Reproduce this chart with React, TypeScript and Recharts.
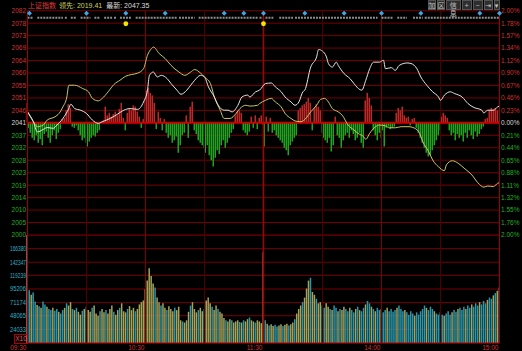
import React from 'react'
import {
  ComposedChart,
  Line,
  Bar,
  Cell,
  XAxis,
  YAxis,
  CartesianGrid,
  ReferenceLine,
  ReferenceDot,
} from 'recharts'

// previous close and the +-2% band split into 9 steps each side
const BASE = 2041.2
const STEP = (BASE * 0.02) / 9

const PRICE_LABELS = ['2082', '2078', '2073', '2069', '2064', '2060', '2055', '2051', '2046', '2041', '2037', '2032', '2028', '2023', '2019', '2014', '2010', '2005', '2000']
const PCT_LABELS = ['2.00%', '1.78%', '1.57%', '1.34%', '1.12%', '0.90%', '0.67%', '0.46%', '0.23%', '0.00%', '0.21%', '0.44%', '0.65%', '0.88%', '1.11%', '1.32%', '1.55%', '1.76%', '2.00%']

const TIME_TICKS = [0, 60, 120, 180, 240]
const TIME_LABELS = ['09:30', '10:30', '11:30', '14:00', '15:00']
const HALF_HOURS = [30, 90, 150, 210]
const HOURS = [60, 180]

const VOL_TICKS = [24033, 48065, 71174, 95206, 119239, 142347, 166380]
const VOL_MAX = 190413

// 上证指数 (white) sampled minutes / values
const PRICE_MIN = [0, 3, 5, 8, 10, 13, 15, 18, 21, 22, 24, 27, 30, 33, 36, 38, 42, 45, 49, 52, 56, 59, 61, 62, 64, 66, 68, 71, 73, 76, 78, 81, 83, 85, 88, 90, 92, 95, 97, 100, 102, 104, 107, 109, 112, 113, 116, 118, 121, 124, 126, 129, 131, 134, 136, 138, 140, 141, 144, 147, 148, 150, 152, 153, 155, 157, 158, 161, 164, 166, 169, 170, 172, 174, 176, 179, 181, 182, 185, 187, 189, 193, 195, 198, 200, 203, 206, 209, 210, 212, 215, 217, 221, 224, 227, 231, 232, 234, 237, 239, 240]
const PRICE_VAL = [2045.2, 2041.6, 2037.9, 2038.8, 2039.5, 2039.2, 2040.4, 2042.8, 2046.4, 2048.0, 2046.4, 2045.8, 2044.6, 2042.2, 2041.0, 2041.6, 2042.8, 2044.0, 2045.8, 2046.4, 2046.1, 2048.8, 2053.1, 2058.5, 2059.7, 2057.9, 2058.5, 2057.3, 2055.5, 2053.1, 2051.6, 2053.1, 2054.9, 2056.7, 2058.5, 2057.9, 2054.3, 2050.6, 2047.6, 2045.8, 2045.8, 2045.2, 2047.6, 2050.6, 2051.3, 2050.6, 2052.5, 2053.1, 2055.5, 2055.7, 2054.3, 2052.5, 2050.6, 2048.8, 2047.6, 2048.8, 2052.5, 2053.1, 2061.5, 2065.2, 2067.9, 2067.3, 2065.2, 2062.8, 2061.5, 2063.3, 2062.1, 2059.1, 2057.3, 2055.5, 2053.3, 2053.1, 2056.7, 2060.9, 2063.3, 2063.3, 2064.0, 2060.9, 2061.3, 2060.3, 2062.1, 2063.0, 2062.8, 2060.9, 2057.9, 2054.9, 2052.5, 2050.6, 2049.4, 2051.3, 2052.5, 2051.9, 2050.6, 2048.2, 2046.8, 2045.8, 2044.8, 2045.8, 2045.8, 2047.0, 2047.35]

// 领先 (yellow)
const LEAD_MIN = [0, 3, 5, 8, 10, 14, 16, 18, 20, 21, 24, 28, 31, 33, 36, 38, 41, 44, 47, 50, 53, 56, 59, 61, 63, 64, 67, 70, 73, 77, 80, 83, 85, 88, 90, 93, 95, 98, 100, 103, 106, 108, 111, 113, 117, 118, 121, 124, 126, 129, 131, 134, 136, 139, 142, 144, 147, 149, 151, 153, 155, 158, 160, 163, 166, 168, 171, 172, 174, 177, 179, 182, 184, 187, 190, 194, 196, 199, 201, 204, 206, 209, 212, 213, 216, 219, 222, 226, 229, 232, 234, 237, 239, 240]
const LEAD_VAL = [2045.2, 2041.6, 2039.8, 2040.4, 2042.2, 2043.4, 2044.6, 2047.0, 2050.6, 2054.9, 2054.9, 2053.7, 2052.5, 2050.1, 2049.2, 2050.1, 2052.5, 2055.2, 2056.7, 2058.2, 2058.8, 2059.3, 2060.9, 2065.8, 2068.2, 2068.8, 2066.4, 2064.6, 2062.1, 2059.7, 2058.5, 2059.7, 2060.6, 2059.3, 2057.9, 2055.5, 2050.6, 2045.8, 2042.8, 2042.8, 2044.6, 2046.4, 2047.6, 2047.3, 2047.6, 2048.2, 2049.4, 2050.1, 2048.8, 2047.0, 2044.6, 2042.8, 2041.9, 2041.6, 2043.2, 2045.2, 2047.6, 2049.7, 2050.1, 2048.8, 2046.4, 2045.2, 2044.0, 2040.4, 2038.6, 2037.4, 2036.1, 2035.2, 2037.4, 2039.8, 2040.4, 2040.1, 2039.4, 2039.4, 2039.8, 2039.8, 2039.5, 2037.9, 2034.3, 2030.7, 2027.7, 2025.2, 2023.8, 2025.9, 2027.4, 2026.5, 2024.7, 2022.2, 2019.4, 2017.8, 2018.2, 2018.0, 2019.2, 2019.41]

// red / green strength bars, one per minute
const STRENGTH = [
  16, -4, -8, -12, -14, -10, -16, -13, -18, -9,
  -7, -12, -16, -10, -6, -13, -8, -5, 3, 4,
  10, 15, 12, -3, -4, -2, -6, -10, -14, -12,
  -16, -19, -15, -12, -10, -11, -8, -6, 1, 2,
  13, 6, 8, 5, 7, 9, 6, 11, 16, 4,
  -6, 8, 12, 10, 14, 13, 9, 5, -4, 3,
  18, 26, 28, 24, 22, 16, -5, 9, 4, -6,
  3, -8, -12, -10, -16, -14, -11, -24, -18, -10,
  -8, 6, -12, 13, 17, -6, -9, -14, -16, -18,
  -20, -24, -18, -26, -30, -35, -28, -22, -25, -18,
  -14, -20, -16, -12, -8, -5, 6, 9, 10, 8,
  -6, -8, -10, -7, 5, -4, 6, -5, 4, 6,
  -2, -19, 5, -7, 4, -8, -6, -10, -12, -14,
  -16, -20, -22, -26, -18, -15, -12, -10, 10, 12,
  14, 15, 17, 20, 16, -6, 12, 15, 13, 10,
  -8, -12, -14, -16, -12, -23, -18, 5, -10, -12,
  -20, -14, -10, -8, -12, -6, -9, -14, -12, -8,
  -16, -20, 18, 24, 20, 14, -6, -10, -14, -8,
  -12, -6, -19, -4, -3, -5, -4, -3, 8, 12,
  10, 13, 6, 4, 5, -2, 3, 4, -4, -8,
  -12, -16, -20, -24, -27, -26, -22, -18, -14, -10,
  -6, 5, 8, 6, 4, -6, -10, -8, -14, -9,
  -12, -10, -15, -8, -12, -6, -10, -13, -7, -11,
  -9, -5, -3, 3, 4, 10, 12, 11, 12, 10, 2,
]

// volume per minute, in thousands (axis is X10)
const VOLUME = [
  190, 93, 85, 89, 73, 67, 65, 62, 73, 68,
  64, 60, 58, 62, 57, 60, 55, 52, 58, 62,
  70, 66, 72, 60, 58, 62, 55, 50, 57, 60,
  64, 58, 55, 62, 66, 52, 48, 56, 60, 54,
  58, 52, 60, 66, 55, 50, 58, 62, 70, 56,
  54, 60, 65, 58, 62, 56, 60, 68, 72, 75,
  95, 110, 132, 118, 105, 98, 80, 72, 66, 70,
  62, 58, 65, 60, 56, 62, 58, 64, 40, 38,
  36, 40, 55, 66, 72, 60, 54, 58, 62, 56,
  60, 75, 80, 70, 64, 58, 66, 60, 55, 52,
  44, 40, 38, 42, 40, 36, 38, 40, 37, 36,
  40, 38, 42, 45, 40, 38, 36, 40, 38, 35,
  160, 40, 34, 31, 33, 30, 32, 29, 31, 33,
  30, 32, 34, 31, 33, 36, 42, 52, 60, 66,
  72, 80, 96, 110, 115, 90, 85, 78, 70, 72,
  66, 62, 70, 64, 60, 58, 66, 62, 56, 60,
  58, 64, 60, 56, 62, 58, 54, 60, 64, 58,
  56, 62, 68, 74, 70, 64, 60, 56, 62, 58,
  60, 54, 58, 62, 56, 60, 55, 58, 62, 66,
  60, 56, 58, 54, 50, 56, 52, 48, 54, 50,
  56, 60, 66, 62, 58, 64, 60, 56, 52, 50,
  54, 50, 48, 52, 56, 50, 54, 58, 55, 60,
  62, 58, 64, 60, 66, 62, 68, 64, 70, 66,
  72, 68, 74, 70, 76, 80, 78, 84, 88, 92, 98,
]

// w = opening bar, y = yellow, c = cyan
const VOL_SIDE =
  'w' +
  'cyccycyccy' + 'ccyccyccyc' + 'yycycyycyc' + 'yycyyycyyc' +
  'yyycyycyyy' + 'cyyycyyyyy' + 'yyyycyycyy' + 'cyyycyyycy' +
  'yycyyycyyc' + 'yyycyycyyy' + 'cyycyyycyc' + 'yycyycyyyy' +
  'cycyyccyyc' + 'yycyycyyyc' + 'yyycyycyyc' + 'cyycyccycy' +
  'yccyccycyc' + 'cyccycyccy' + 'ccyccccycc' + 'cyccccyccc' +
  'ccycccyccc' + 'cycccyccyc' + 'ccyccycccy' + 'cccyccycyc'

// info-mine markers along the top band
const INFO_DIAMONDS = [1, 30, 50, 70, 100, 110, 120, 141, 161, 180, 200, 230, 240]
const INFO_YELLOW = [50, 120]
const INFO_SEGMENTS: [number, number][] = [
  [0, 3], [5, 18], [19, 20], [22, 25], [27, 32], [34, 37], [39, 43], [44, 45], [47, 53],
  [55, 76], [77, 85], [87, 117], [118, 119], [121, 125], [128, 135], [136, 178],
  [180, 186], [188, 193], [196, 201], [202, 240],
]

const PRICE_TICKS = PRICE_LABELS.map((_, i) => BASE + (9 - i) * STEP)
const rows = STRENGTH.map((s, m) => ({ m, s, vol: VOLUME[m] * 1000 }))
const priceRows = PRICE_MIN.map((m, i) => ({ m, v: PRICE_VAL[i] }))
const leadRows = LEAD_MIN.map((m, i) => ({ m, v: LEAD_VAL[i] }))

const FONT = '"Liberation Sans", Arial, sans-serif'
const RED = '#d23232'
const GREEN = '#22b022'
const GRID = '#760000'

function labelColor(i: number) {
  if (i < 9) return RED
  if (i === 9) return '#d8d8d8'
  return GREEN
}

function tickIndex(v: number) {
  return 9 - Math.round((v - BASE) / STEP)
}

const LeftTick = (props: any) => {
  const i = tickIndex(props.payload.value)
  return (
    <text x={props.x} y={props.y} dy={2.4} textAnchor="end" fontSize={6.5} fontFamily={FONT} fill={labelColor(i)}>
      {PRICE_LABELS[i]}
    </text>
  )
}

const RightTick = (props: any) => {
  const i = tickIndex(props.payload.value)
  return (
    <text x={props.x} y={props.y} dy={2.4} textAnchor="start" fontSize={6.5} fontFamily={FONT} fill={labelColor(i)}>
      {PCT_LABELS[i]}
    </text>
  )
}

const VolTick = (props: any) => (
  <text x={props.x} y={props.y} dy={2.4} textAnchor="end" fontSize={6.5} fontFamily={FONT} fill="#30b0c4" textLength={16} lengthAdjust="spacingAndGlyphs">
    {props.payload.value}
  </text>
)

const TimeTick = (props: any) => {
  const i = TIME_TICKS.indexOf(props.payload.value)
  return (
    <text x={props.x - 1} y={props.y} dy={6.8} textAnchor="end" fontSize={6.5} fontFamily={FONT} fill={RED}>
      {TIME_LABELS[i]}
    </text>
  )
}

// strength bars snapped to whole pixels, coloured by sign
const StrengthBar = (p: any) => {
  const s = p.payload ? p.payload.s : p.value
  const top = Math.min(p.y, p.y + p.height)
  const h = Math.abs(p.height)
  return <rect x={Math.floor(p.x + p.width / 2) - 0.5} y={top} width={1.5} height={h} fill={s >= 0 ? '#c02828' : '#1ea41e'} />
}

const Diamond = (p: any) => (
  <path d={`M${p.cx},${p.cy - 2.5}L${p.cx + 2.5},${p.cy}L${p.cx},${p.cy + 2.5}L${p.cx - 2.5},${p.cy}Z`} fill="#3aa8e6" />
)
const YellowDot = (p: any) => <circle cx={p.cx} cy={p.cy} r={2.4} fill="#f2e600" />

const BUTTONS = [
  { t: '加', x: 427.5, w: 8.5 },
  { t: '区', x: 436.5, w: 8.5 },
  { t: '信息', x: 446, w: 14.5 },
  { t: '+', x: 461.5, w: 10.5 },
  { t: '−', x: 472.5, w: 10.5 },
  { t: '⇥', x: 483.5, w: 9.5 },
  { t: '▾', x: 493.5, w: 6 },
]

function verticalLines(axisId: string) {
  return [
    ...HALF_HOURS.map(m => <ReferenceLine key={'h' + m} x={m} yAxisId={axisId} stroke="#4e0000" />),
    ...HOURS.map(m => <ReferenceLine key={'o' + m} x={m} yAxisId={axisId} stroke="#7e0000" />),
    <ReferenceLine key="mid" x={120} yAxisId={axisId} stroke="#a80000" strokeWidth={1.5} />,
  ]
}

export default function App() {
  const diamondY = BASE * 1.01956
  const rowY = BASE * 1.01874
  const yellowY = BASE * 1.01767

  return (
    <div style={{ position: 'absolute', left: 0, top: 0, width: 522, height: 351, background: '#000', overflow: 'hidden', fontFamily: FONT }}>
      <div style={{ position: 'absolute', left: 0, top: 0 }}>
        <ComposedChart width={522} height={240} data={rows} margin={{ top: 10.7, right: 0, bottom: 5, left: 0 }}>
          <CartesianGrid yAxisId="p" vertical={false} stroke={GRID} />
          {verticalLines('p')}
          <XAxis type="number" dataKey="m" domain={[0, 240]} hide />
          <YAxis yAxisId="p" domain={[BASE * 0.98, BASE * 1.02]} ticks={PRICE_TICKS} interval={0} width={27.5} tickSize={0} tickMargin={1.5} tickLine={false} tick={<LeftTick />} axisLine={{ stroke: '#a00000' }} allowDataOverflow />
          <YAxis yAxisId="r" orientation="right" domain={[BASE * 0.98, BASE * 1.02]} ticks={PRICE_TICKS} interval={0} width={22.5} tickSize={0} tickMargin={1.5} tickLine={false} tick={<RightTick />} axisLine={{ stroke: '#a00000' }} allowDataOverflow />
          <YAxis yAxisId="s" domain={[-90, 90]} hide />
          <Bar yAxisId="s" dataKey="s" barSize={1} shape={StrengthBar} isAnimationActive={false} />
          <ReferenceLine y={BASE} yAxisId="p" stroke="#cc0000" strokeWidth={2} />
          <Line yAxisId="p" data={leadRows} dataKey="v" type="monotone" stroke="#c8c866" strokeWidth={1} dot={false} isAnimationActive={false} />
          <Line yAxisId="p" data={priceRows} dataKey="v" type="monotone" stroke="#e4e4e4" strokeWidth={1} dot={false} isAnimationActive={false} />
          {INFO_SEGMENTS.map(([a, b]) => (
            <ReferenceLine key={'g' + a} yAxisId="p" segment={[{ x: a, y: rowY }, { x: b, y: rowY }]} stroke="#8e8e8e" strokeWidth={2} strokeDasharray="2 1" />
          ))}
          {INFO_DIAMONDS.map(m => (
            <ReferenceDot key={'d' + m} yAxisId="p" x={m} y={diamondY} r={2.5} shape={Diamond} />
          ))}
          {INFO_YELLOW.map(m => (
            <ReferenceDot key={'y' + m} yAxisId="p" x={m} y={yellowY} r={2.4} shape={YellowDot} />
          ))}
        </ComposedChart>
      </div>

      <div style={{ position: 'absolute', left: 0, top: 235 }}>
        <ComposedChart width={522} height={116} data={rows} margin={{ top: 0, right: 0, bottom: 0, left: 0 }}>
          <CartesianGrid yAxisId="v" vertical={false} stroke={GRID} />
          {verticalLines('v')}
          <XAxis type="number" dataKey="m" domain={[0, 240]} ticks={TIME_TICKS} interval={0} height={8} tickSize={0} tickMargin={0} tickLine={false} tick={<TimeTick />} axisLine={{ stroke: '#a00000' }} />
          <YAxis yAxisId="v" domain={[0, VOL_MAX]} ticks={VOL_TICKS} interval={0} width={27.5} tickSize={0} tickMargin={1.5} tickLine={false} tick={<VolTick />} axisLine={{ stroke: '#a00000' }} />
          <YAxis yAxisId="vr" orientation="right" domain={[0, VOL_MAX]} width={22.5} tick={false} tickLine={false} axisLine={{ stroke: '#a00000' }} />
          <Bar yAxisId="v" dataKey="vol" barSize={1.5} isAnimationActive={false}>
            {rows.map(r => (
              <Cell key={r.m} fill={VOL_SIDE[r.m] === 'w' ? '#c8c8c8' : VOL_SIDE[r.m] === 'y' ? '#a4a45a' : '#2a98ac'} />
            ))}
          </Bar>
        </ComposedChart>
      </div>

      <div style={{ position: 'absolute', left: 14, top: 334, width: 12, height: 8, border: '1px solid #b00000', color: '#e05a5a', fontSize: 6.5, lineHeight: '8px', textAlign: 'center' }}>X10</div>

      <div style={{ position: 'absolute', left: 28, top: 0, height: 10, fontSize: 7, lineHeight: '10px', whiteSpace: 'nowrap' }}>
        <span style={{ color: '#e03c3c', fontFamily: '"Noto Sans CJK SC", sans-serif' }}>上证指数</span>
        <span style={{ color: '#d2d25e', marginLeft: 3 }}>
          <span style={{ fontFamily: '"Noto Sans CJK SC", sans-serif' }}>领先</span>: 2019.41
        </span>
        <span style={{ color: '#dcdcdc', marginLeft: 4 }}>
          <span style={{ fontFamily: '"Noto Sans CJK SC", sans-serif' }}>最新</span>: 2047.35
        </span>
      </div>

      {BUTTONS.map(b => (
        <div key={b.t} style={{ position: 'absolute', left: b.x, top: 0, width: b.w, height: 10, boxSizing: 'border-box', background: '#2e2e2e', border: '1px solid #555', color: '#c4c4c4', fontSize: 7, lineHeight: '8px', textAlign: 'center', fontFamily: '"Noto Sans CJK SC", "DejaVu Sans", sans-serif' }}>
          {b.t}
        </div>
      ))}
    </div>
  )
}
